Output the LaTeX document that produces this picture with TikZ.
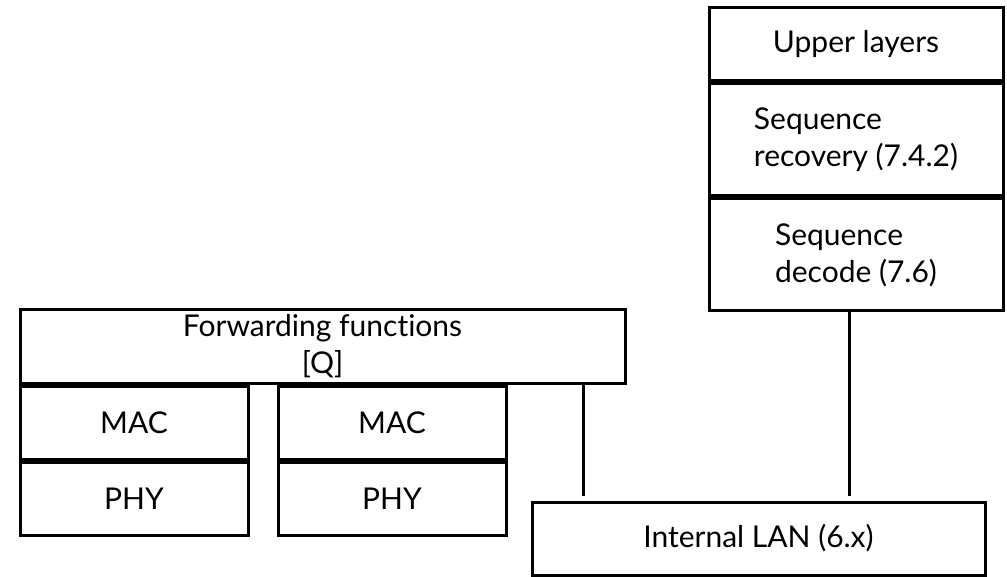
\documentclass[tikz,border=0pt]{standalone}
\usepackage{fontspec}
\setmainfont{Lato}[Ligatures={NoCommon,NoRare},Contextuals={NoAlternate}]
\newdimen\px \px=0.75pt
\tikzset{
  x=0.75pt, y=-0.75pt,
  box/.style={draw=black, line width=3\px, inner sep=0pt, align=center,
    font=\fontsize{22.5}{27.75}\selectfont},
  lbox/.style={box, align=left},
  wire/.style={draw=black, line width=3\px}
}
\begin{document}
\begin{tikzpicture}
\useasboundingbox (0,0) rectangle (1007,577);
% left side
\node[box, minimum width=605\px, minimum height=73\px] (fwd) at (322.5,346.5) {Forwarding funct\kern0pt ions\\{}[Q]};
\node[box, minimum width=228\px, minimum height=73\px] (macL) at (134,422.5) {MAC};
\node[box, minimum width=228\px, minimum height=73\px] (phyL) at (134,498.5) {PHY};
\node[box, minimum width=228\px, minimum height=73\px] (macR) at (392,422.5) {MAC};
\node[box, minimum width=228\px, minimum height=73\px] (phyR) at (392,498.5) {PHY};
% LAN
\node[box, minimum width=453\px, minimum height=73\px] (lan) at (758.5,538.5) {Internal LAN (6.x)};
% right stack
\node[box, minimum width=294\px, minimum height=73\px] (upper) at (856,44.5) {Upper layers};
\node[lbox, minimum width=294\px, minimum height=112\px] (seqrec) at (856,140) {Sequence\\recovery (7.4.2)};
\node[lbox, minimum width=294\px, minimum height=112\px] (seqdec) at (856,255) {Sequence\\decode (7.6)};
% connectors
\coordinate (fwdtap) at ([xshift=-43\px]fwd.south east);
\draw[wire, shorten >=5\px] (fwdtap) -- (fwdtap |- lan.north);
\draw[wire, shorten >=5\px] ([xshift=-7\px]seqdec.south) -- ([xshift=-7\px]seqdec.south |- lan.north);
\end{tikzpicture}
\end{document}
